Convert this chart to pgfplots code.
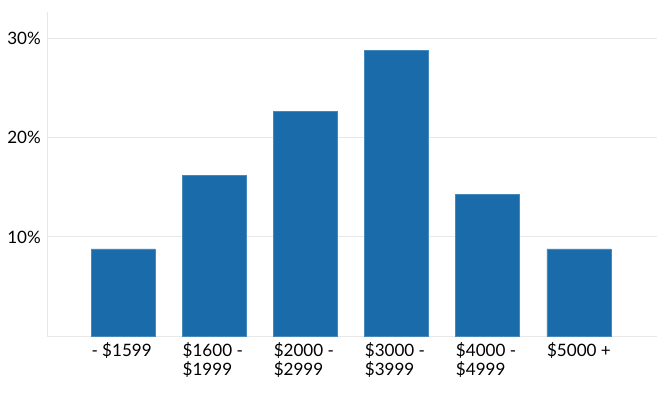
\documentclass[border=0pt]{standalone}
\usepackage{fontspec}
\setmainfont{Lato}
\usepackage{pgfplots}
\pgfplotsset{compat=1.18}
\definecolor{barblue}{HTML}{1A6BAA}
\definecolor{gridgray}{HTML}{E8E8E8}
\begin{document}
\begin{tikzpicture}
\useasboundingbox (-35.6pt,-43.5pt) rectangle (463pt,252pt);
\begin{axis}[
  at={(0,0)}, anchor=south west,
  scale only axis, width=457pt, height=243pt,
  xmin=-0.832, xmax=5.858, ymin=0, ymax=32.7,
  axis lines*=left,
  axis line style={draw=gridgray, line width=0.75pt},
  ytick={10,20,30}, yticklabels={10\%,20\%,30\%},
  ymajorgrids, grid style={draw=gridgray, line width=0.75pt},
  major tick length=0pt,
  xtick={0,1,2,3,4,5},
  xticklabels={{- \$1599},{\$1600 -\\\$1999},{\$2000 -\\\$2999},{\$3000 -\\\$3999},{\$4000 -\\\$4999},{\$5000 +}},
  xticklabel style={anchor=north west, align=left, inner xsep=0pt, xshift=-24pt, yshift=-1pt},
  yticklabel style={inner xsep=0pt, xshift=-4.8pt},
  tick label style={font=\fontsize{12.8}{14.3}\selectfont, text=black},
  /pgf/number format/assume math mode=true,
  ybar, bar width=48pt,
]
\addplot[fill=barblue, draw=barblue!80!white, line width=0.4pt] coordinates {(0,8.8) (1,16.2) (2,22.7) (3,28.8) (4,14.3) (5,8.8)};
\end{axis}
\end{tikzpicture}
\end{document}
